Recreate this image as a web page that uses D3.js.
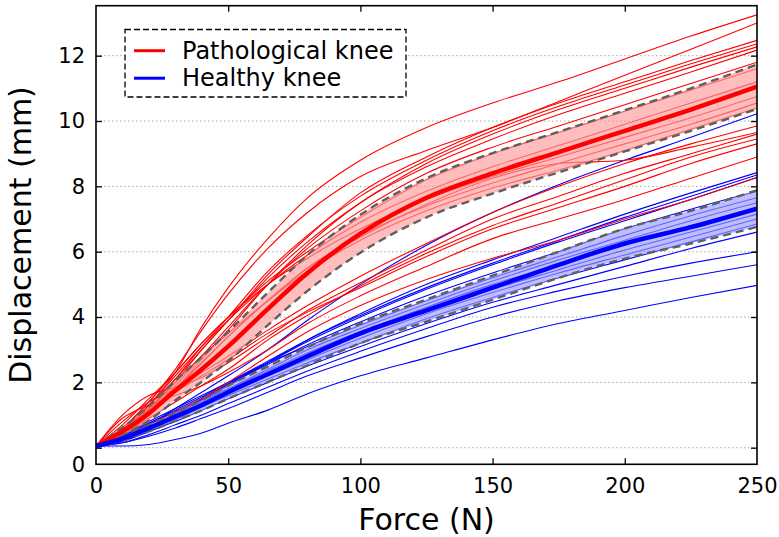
<!DOCTYPE html>
<html><head><meta charset="utf-8">
<script src="https://cdn.jsdelivr.net/npm/d3@7/dist/d3.min.js"></script>
<style>
body{margin:0;background:#fff}
svg{display:block}
text{font-family:"DejaVu Sans",sans-serif;fill:#000}
</style>
</head><body>
<svg id="c" width="779" height="537"></svg>
<script>
// ---------- DATA ----------
const forces = [0, 10, 20, 30, 40, 50, 65, 80, 100, 125, 150, 175, 200, 225, 250];

const pathologicalCurves = [
  [0.05, 0.5, 1.3, 2.3, 3.7, 4.9, 6.4, 7.65, 8.8, 9.8, 10.55, 11.2, 11.9, 12.6, 13.25],
  [0.05, 0.6, 1.4, 2.4, 3.6, 4.7, 6.1, 7.2, 8.3, 9.1, 9.8, 10.6, 11.4, 12.2, 13.0],
  [0.05, 0.45, 1.15, 2.0, 3.0, 3.9, 5.3, 6.45, 7.8, 8.9, 9.8, 10.55, 11.2, 11.85, 12.47],
  [0.05, 0.5, 1.2, 2.1, 3.1, 4.0, 5.4, 6.5, 7.7, 8.8, 9.7, 10.45, 11.1, 11.75, 12.36],
  [0.05, 0.55, 1.3, 2.1, 3.0, 3.9, 5.2, 6.3, 7.5, 8.7, 9.6, 10.35, 11.0, 11.65, 12.27],
  [0.05, 0.4, 1.0, 1.8, 2.7, 3.6, 5.0, 6.2, 7.5, 8.6, 9.45, 10.2, 10.85, 11.5, 12.17],
  [0.05, 0.45, 1.1, 1.9, 2.8, 3.7, 5.0, 6.1, 7.25, 8.4, 9.2, 9.85, 10.5, 11.15, 11.8],
  [0.05, 0.7, 1.5, 2.3, 3.2, 4.0, 5.1, 6.0, 7.05, 8.2, 9.0, 9.65, 10.3, 10.95, 11.6],
  [0.05, 0.5, 1.3, 2.2, 3.1, 3.9, 5.0, 5.9, 6.9, 7.85, 8.6, 9.25, 9.9, 10.55, 11.2],
  [0.05, 0.6, 1.4, 2.3, 3.2, 4.0, 5.0, 5.8, 6.7, 7.6, 8.3, 8.9, 9.5, 10.1, 10.75],
  [0.05, 0.4, 1.0, 1.8, 2.6, 3.4, 4.5, 5.5, 6.5, 7.4, 8.1, 8.7, 9.3, 9.9, 10.55],
  [0.05, 0.55, 1.2, 2.0, 2.8, 3.5, 4.5, 5.4, 6.35, 7.25, 7.95, 8.5, 9.1, 9.75, 10.4],
  [0.05, 0.8, 1.4, 1.8, 2.3, 2.8, 3.6, 4.35, 5.25, 6.25, 7.2, 8.0, 8.7, 9.3, 9.85],
  [0.05, 1.0, 1.6, 1.85, 2.15, 2.6, 3.4, 4.2, 5.05, 6.05, 7.0, 7.7, 8.4, 9.0, 9.6],
  [0.05, 0.4, 0.9, 1.4, 1.9, 2.4, 3.3, 4.05, 4.95, 5.95, 6.8, 7.5, 8.2, 8.9, 9.45],
  [0.05, 0.5, 1.1, 1.8, 2.6, 3.4, 4.5, 5.5, 6.45, 7.45, 8.25, 8.7, 8.8, 9.2, 9.65],
  [0.05, 0.9, 1.3, 1.6, 1.9, 2.3, 3.0, 3.8, 4.65, 5.55, 6.4, 7.0, 7.6, 8.25, 8.9],
  [0.05, 0.3, 0.7, 1.1, 1.5, 2.0, 2.8, 3.55, 4.35, 5.15, 5.8, 6.35, 7.0, 7.6, 8.27],
  [0.05, 0.6, 1.2, 1.7, 2.2, 2.7, 3.5, 4.15, 4.9, 5.85, 6.7, 7.35, 8.0, 8.7, 9.3]
];

const healthyCurves = [
  [0.05, 0.3, 0.7, 1.2, 1.7, 2.2, 3.0, 3.9, 5.0, 6.2, 7.2, 8.05, 8.8, 9.5, 10.22],
  [0.05, 0.25, 0.6, 1.0, 1.45, 1.9, 2.6, 3.3, 4.1, 5.0, 5.75, 6.45, 7.15, 7.8, 8.42],
  [0.05, 0.35, 0.75, 1.15, 1.55, 2.0, 2.65, 3.3, 4.05, 4.9, 5.65, 6.35, 7.05, 7.7, 8.35],
  [0.05, 0.3, 0.65, 1.05, 1.5, 1.95, 2.6, 3.25, 4.0, 4.85, 5.6, 6.3, 6.95, 7.6, 8.27],
  [0.05, 0.3, 0.7, 1.1, 1.5, 1.95, 2.55, 3.15, 3.85, 4.65, 5.35, 6.0, 6.7, 7.3, 7.85],
  [0.05, 0.4, 0.8, 1.2, 1.6, 2.0, 2.6, 3.1, 3.75, 4.5, 5.2, 5.85, 6.5, 7.1, 7.65],
  [0.05, 0.25, 0.6, 1.0, 1.4, 1.8, 2.4, 3.0, 3.65, 4.4, 5.1, 5.75, 6.35, 6.95, 7.5],
  [0.05, 0.35, 0.75, 1.1, 1.45, 1.8, 2.35, 2.9, 3.55, 4.3, 5.0, 5.6, 6.2, 6.8, 7.35],
  [0.05, 0.3, 0.6, 0.95, 1.3, 1.7, 2.25, 2.8, 3.5, 4.25, 4.95, 5.6, 6.25, 6.8, 7.3],
  [0.05, 0.2, 0.5, 0.85, 1.25, 1.65, 2.25, 2.8, 3.45, 4.2, 4.85, 5.45, 6.05, 6.6, 7.15],
  [0.05, 0.3, 0.65, 1.0, 1.35, 1.7, 2.2, 2.7, 3.35, 4.1, 4.75, 5.35, 5.9, 6.45, 7.0],
  [0.05, 0.25, 0.55, 0.9, 1.25, 1.6, 2.1, 2.6, 3.2, 3.95, 4.6, 5.2, 5.75, 6.3, 6.85],
  [0.05, 0.2, 0.5, 0.8, 1.15, 1.5, 2.0, 2.5, 3.1, 3.8, 4.45, 5.0, 5.55, 6.1, 6.6],
  [0.05, 0.15, 0.4, 0.7, 1.0, 1.35, 1.85, 2.35, 2.95, 3.65, 4.3, 4.8, 5.25, 5.65, 6.0],
  [0.05, 0.15, 0.35, 0.6, 0.9, 1.2, 1.7, 2.2, 2.75, 3.4, 4.0, 4.5, 4.9, 5.25, 5.6],
  [0.05, 0.05, 0.1, 0.25, 0.45, 0.75, 1.15, 1.65, 2.2, 2.75, 3.3, 3.8, 4.2, 4.6, 4.97]
];

const pathologicalMean = [0.05, 0.5, 1.05, 1.75, 2.4, 3.1, 4.25, 5.35, 6.55, 7.65, 8.4, 9.05, 9.7, 10.35, 11.05];
const pathologicalSD   = [0.02, 0.12, 0.22, 0.3, 0.38, 0.45, 0.5, 0.55, 0.58, 0.6, 0.62, 0.62, 0.63, 0.65, 0.68];
const healthyMean = [0.05, 0.28, 0.6, 0.95, 1.3, 1.7, 2.25, 2.8, 3.5, 4.2, 4.9, 5.6, 6.25, 6.75, 7.32];
const healthySD   = [0.02, 0.06, 0.1, 0.13, 0.16, 0.2, 0.24, 0.28, 0.3, 0.34, 0.37, 0.4, 0.46, 0.5, 0.56];

const xTicks = [0, 50, 100, 150, 200, 250];
const yTicks = [0, 2, 4, 6, 8, 10, 12];
const legendLabels = ["Pathological knee", "Healthy knee"];
const xTitle = "Force (N)";
const yTitle = "Displacement (mm)";

// ---------- CHART ----------
const svg = d3.select("#c");
const L = 96, R = 757, T = 5.7, B = 464.3;
const x = d3.scaleLinear().domain([0, 250]).range([L, R]);
const y = d3.scaleLinear().domain([-0.508, 13.53]).range([B, T]);

svg.append("defs").append("clipPath").attr("id", "clip")
  .append("rect").attr("x", L).attr("y", T).attr("width", R - L).attr("height", B - T);

// grid
svg.append("g").selectAll("line").data(yTicks).join("line")
  .attr("x1", L).attr("x2", R)
  .attr("y1", d => y(d)).attr("y2", d => y(d))
  .attr("stroke", "#a8a8a8").attr("stroke-width", 1).attr("stroke-dasharray", "1.5,2.5");

const plot = svg.append("g").attr("clip-path", "url(#clip)");
const line = d3.line().x((d, i) => x(forces[i])).y(d => y(d)).curve(d3.curveMonotoneX);
const area = (m, s) => d3.area()
  .x((d, i) => x(forces[i]))
  .y0((d, i) => y(m[i] - s[i]))
  .y1((d, i) => y(m[i] + s[i]))
  .curve(d3.curveMonotoneX)(m);

plot.append("g").selectAll("path").data(healthyCurves).join("path")
  .attr("d", line).attr("fill", "none").attr("stroke", "#0000ff").attr("stroke-width", 1.1);
plot.append("g").selectAll("path").data(pathologicalCurves).join("path")
  .attr("d", line).attr("fill", "none").attr("stroke", "#ff0000").attr("stroke-width", 1.1);

plot.append("path").attr("d", area(pathologicalMean, pathologicalSD))
  .attr("fill", "#ff9999").attr("fill-opacity", 0.65);
plot.append("path").attr("d", area(healthyMean, healthySD))
  .attr("fill", "#9999ff").attr("fill-opacity", 0.65);

[[pathologicalMean, pathologicalSD], [healthyMean, healthySD]].forEach(([m, s]) => {
  [1, -1].forEach(sg => {
    plot.append("path").attr("d", line(m.map((v, i) => v + sg * s[i])))
      .attr("fill", "none").attr("stroke", "#606060").attr("stroke-width", 2.4)
      .attr("stroke-dasharray", "8,5");
  });
});

plot.append("path").attr("d", line(pathologicalMean)).attr("fill", "none")
  .attr("stroke", "#ff0000").attr("stroke-width", 4.5);
plot.append("path").attr("d", line(healthyMean)).attr("fill", "none")
  .attr("stroke", "#0000ff").attr("stroke-width", 4.5);

// axes
const fs = 21;
const gx = svg.append("g").attr("transform", `translate(0,${B})`)
  .call(d3.axisBottom(x).tickValues(xTicks).tickSize(-6).tickPadding(14));
const gxTop = svg.append("g").attr("transform", `translate(0,${T})`)
  .call(d3.axisTop(x).tickValues(xTicks).tickSize(-6).tickFormat(""));
const gy = svg.append("g").attr("transform", `translate(${L},0)`)
  .call(d3.axisLeft(y).tickValues(yTicks).tickSize(-6).tickFormat(""));
const gyLab = svg.append("g").attr("transform", `translate(${L},0)`)
  .call(d3.axisLeft(y).tickValues([y.domain()[0]].concat(yTicks.slice(1)))
    .tickSize(0).tickPadding(11).tickFormat(d => d < 0 ? "0" : d3.format("d")(d)));
const gyR = svg.append("g").attr("transform", `translate(${R},0)`)
  .call(d3.axisRight(y).tickValues(yTicks).tickSize(-6).tickFormat(""));
[gx, gxTop, gy, gyLab, gyR].forEach(g => {
  g.select(".domain").remove();
  g.selectAll(".tick line").attr("stroke", "#000").attr("stroke-width", 1.3);
  g.selectAll("text").attr("font-size", fs).attr("font-family", "DejaVu Sans").attr("fill", "#000");
});
gx.selectAll(".tick").filter(d => d === 0 || d === 250).select("line").remove();
gxTop.selectAll(".tick").filter(d => d === 0 || d === 250).select("line").remove();

svg.append("rect").attr("x", L).attr("y", T).attr("width", R - L).attr("height", B - T)
  .attr("fill", "none").attr("stroke", "#000").attr("stroke-width", 1.6);

// titles
svg.append("text").attr("x", (L + R) / 2).attr("y", 530).attr("text-anchor", "middle")
  .attr("font-size", 30).text(xTitle);
svg.append("text").attr("transform", "translate(31,235) rotate(-90)").attr("text-anchor", "middle")
  .attr("font-size", 30).text(yTitle);

// legend
const lg = svg.append("g");
lg.append("rect").attr("x", 125).attr("y", 29.5).attr("width", 281).attr("height", 67.5)
  .attr("fill", "#fff").attr("stroke", "#000").attr("stroke-width", 1.3).attr("stroke-dasharray", "6,3");
const legColors = ["#ff0000", "#0000ff"];
legendLabels.forEach((t, i) => {
  const yy = 50.7 + i * 27.5;
  lg.append("line").attr("x1", 134).attr("x2", 165).attr("y1", yy).attr("y2", yy)
    .attr("stroke", legColors[i]).attr("stroke-width", 3);
  lg.append("text").attr("x", 182).attr("y", yy + 8).attr("font-size", 24).text(t);
});
</script>
</body></html>
